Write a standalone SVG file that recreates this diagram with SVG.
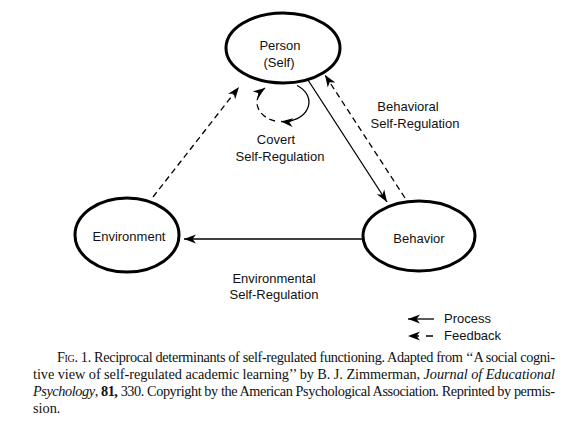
<svg xmlns="http://www.w3.org/2000/svg" width="580" height="429" viewBox="0 0 580 429">
<style>
.node{fill:none;stroke:#000;stroke-width:3}
.lbl{font-family:"Liberation Sans",Arial,sans-serif;font-size:13px;fill:#111;text-anchor:middle}
.leg{font-family:"Liberation Sans",Arial,sans-serif;font-size:13px;fill:#111}
.cap{font-family:"Liberation Serif","Times New Roman",serif;font-size:14.3px;fill:#111}
.c{fill:none;stroke:#000;stroke-width:1.3}
.d{stroke-dasharray:6,4}
</style>
<defs>
<marker id="ah" viewBox="0 0 12 10" refX="12" refY="5" markerWidth="12" markerHeight="10" markerUnits="userSpaceOnUse" orient="auto">
<path d="M0,0.5 L12,5 L0,9.5 L3.5,5 z" fill="#000"/>
</marker>
</defs>
<rect width="580" height="429" fill="#fff"/>
<g id="person">
<ellipse class="node" cx="283" cy="48" rx="57" ry="35"/>
<text class="lbl" x="280" y="50">Person</text>
<text class="lbl" x="279" y="67">(Self)</text>
</g>
<g id="environment">
<ellipse class="node" cx="127" cy="235" rx="52" ry="37"/>
<text class="lbl" x="129" y="241">Environment</text>
</g>
<g id="behavior">
<ellipse class="node" cx="419" cy="236" rx="56" ry="35"/>
<text class="lbl" x="419" y="243">Behavior</text>
</g>
<g id="connectors">
<path class="c d" d="M153,197 L239,87" marker-end="url(#ah)"/>
<path class="c" d="M308,80 L387,202" marker-end="url(#ah)"/>
<path class="c d" d="M405,198 L325,75" marker-end="url(#ah)"/>
<path class="c" d="M363,239 L184,239" marker-end="url(#ah)"/>
<path class="c" d="M297,85.5 A25,19.5 0 0 1 281,121.5" marker-end="url(#ah)"/>
<path class="c d" d="M275,121 A25,19.5 0 0 1 265,88" marker-end="url(#ah)"/>
</g>
<g id="labels">
<text class="lbl" x="276" y="144">Covert</text>
<text class="lbl" x="280" y="161">Self-Regulation</text>
<text class="lbl" x="408" y="111">Behavioral</text>
<text class="lbl" x="415" y="128">Self-Regulation</text>
<text class="lbl" x="274" y="283">Environmental</text>
<text class="lbl" x="274" y="299">Self-Regulation</text>
</g>
<g id="legend">
<path class="c" d="M434,319 L408,319" marker-end="url(#ah)"/>
<path class="c" d="M433,336 L408,336" stroke-dasharray="7,7" marker-end="url(#ah)"/>
<text class="leg" x="444" y="323">Process</text>
<text class="leg" x="444" y="340">Feedback</text>
</g>
<g id="caption">
<text class="cap" x="57" y="362" textLength="498" lengthAdjust="spacing"><tspan font-variant="small-caps">Fig</tspan>. 1. Reciprocal determinants of self-regulated functioning. Adapted from ‘‘A social cogni-</text>
<text class="cap" x="33" y="379" textLength="522" lengthAdjust="spacing">tive view of self-regulated academic learning’’ by B. J. Zimmerman, <tspan font-style="italic">Journal of Educational</tspan></text>
<text class="cap" x="33" y="396" textLength="522" lengthAdjust="spacing"><tspan font-style="italic">Psychology</tspan>, <tspan font-weight="bold">81,</tspan> 330. Copyright by the American Psychological Association. Reprinted by permis-</text>
<text class="cap" x="33" y="413">sion.</text>
</g>
</svg>
